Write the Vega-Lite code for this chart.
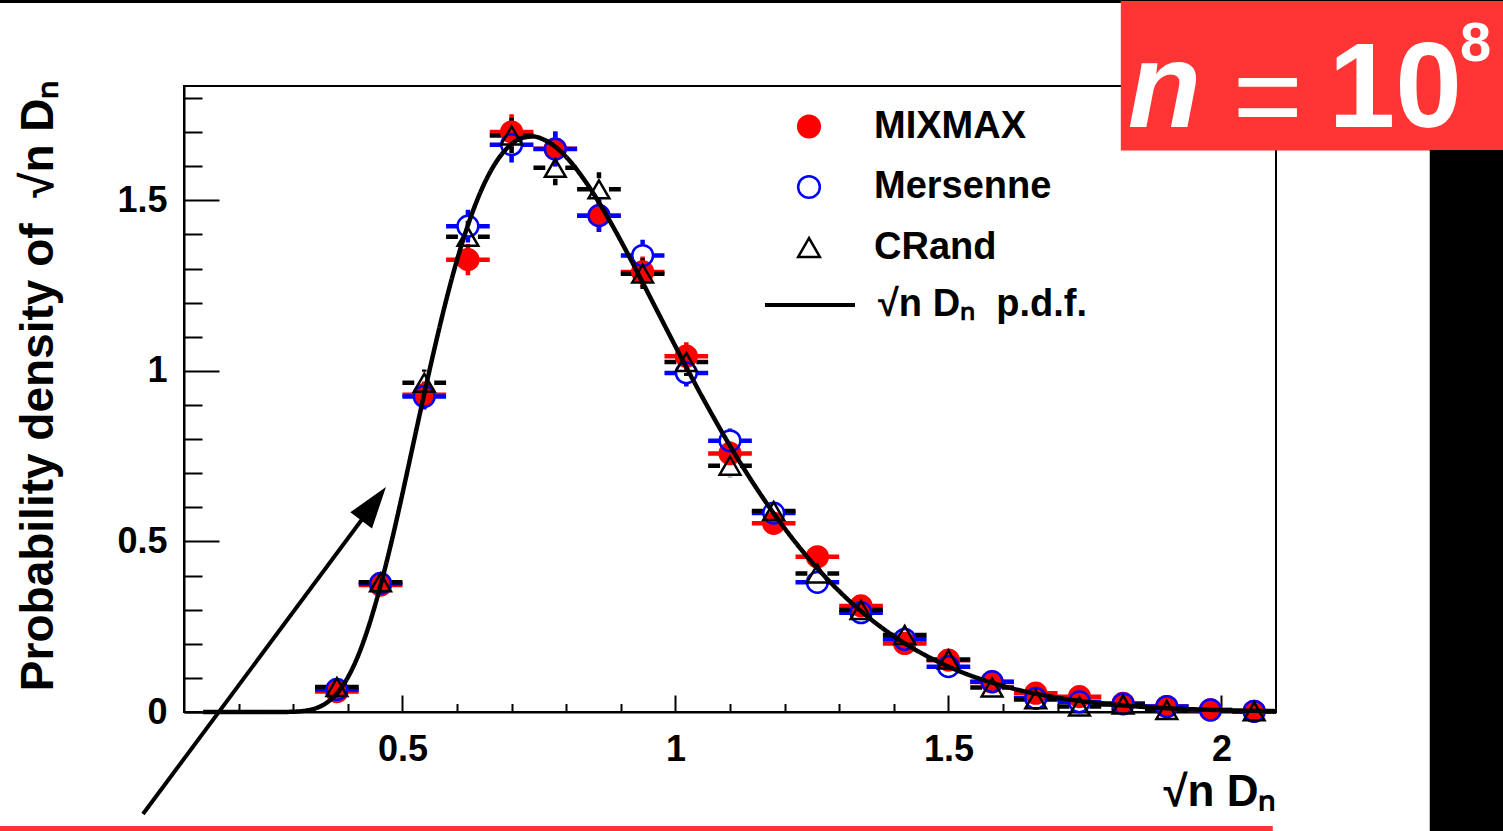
{
  "$schema": "https://vega.github.io/schema/vega-lite/v6.json",
  "width": 1092,
  "height": 626,
  "autosize": {"type": "none"},
  "padding": {"left": 184, "top": 86, "right": 227, "bottom": 119},
  "background": "white",
  "config": {
    "font": "Liberation Sans",
    "view": {"stroke": "black", "strokeWidth": 2},
    "axis": {"domainColor": "black", "domainWidth": 2, "tickColor": "black", "tickWidth": 2, "grid": false,
      "labelFont": "Liberation Sans", "labelFontWeight": "bold", "labelFontSize": 36, "labelColor": "black",
      "titleFont": "Liberation Sans", "titleFontWeight": "bold", "titleColor": "black", "labelOverlap": false, "labelFlush": false},
    "legend": {"labelFont": "Liberation Sans", "labelFontWeight": "bold", "labelFontSize": 38, "labelColor": "black", "padding": 0, "labelLimit": 600}
  },
  "datasets": {
    "pts": [
      {"g":"MIXMAX","x":0.38,"x0":0.34,"x1":0.42,"y":0.060,"ylo":0.050,"yhi":0.070},
      {"g":"MIXMAX","x":0.46,"x0":0.42,"x1":0.50,"y":0.372,"ylo":0.348,"yhi":0.396},
      {"g":"MIXMAX","x":0.54,"x0":0.50,"x1":0.58,"y":0.930,"ylo":0.891,"yhi":0.969},
      {"g":"MIXMAX","x":0.62,"x0":0.58,"x1":0.66,"y":1.326,"ylo":1.280,"yhi":1.372},
      {"g":"MIXMAX","x":0.70,"x0":0.66,"x1":0.74,"y":1.700,"ylo":1.648,"yhi":1.752},
      {"g":"MIXMAX","x":0.78,"x0":0.74,"x1":0.82,"y":1.651,"ylo":1.600,"yhi":1.702},
      {"g":"MIXMAX","x":0.86,"x0":0.82,"x1":0.90,"y":1.455,"ylo":1.407,"yhi":1.503},
      {"g":"MIXMAX","x":0.94,"x0":0.90,"x1":0.98,"y":1.290,"ylo":1.245,"yhi":1.335},
      {"g":"MIXMAX","x":1.02,"x0":0.98,"x1":1.06,"y":1.043,"ylo":1.002,"yhi":1.084},
      {"g":"MIXMAX","x":1.10,"x0":1.06,"x1":1.14,"y":0.758,"ylo":0.723,"yhi":0.793},
      {"g":"MIXMAX","x":1.18,"x0":1.14,"x1":1.22,"y":0.553,"ylo":0.523,"yhi":0.583},
      {"g":"MIXMAX","x":1.26,"x0":1.22,"x1":1.30,"y":0.455,"ylo":0.428,"yhi":0.482},
      {"g":"MIXMAX","x":1.34,"x0":1.30,"x1":1.38,"y":0.311,"ylo":0.289,"yhi":0.333},
      {"g":"MIXMAX","x":1.42,"x0":1.38,"x1":1.46,"y":0.201,"ylo":0.183,"yhi":0.219},
      {"g":"MIXMAX","x":1.50,"x0":1.46,"x1":1.54,"y":0.152,"ylo":0.136,"yhi":0.168},
      {"g":"MIXMAX","x":1.58,"x0":1.54,"x1":1.62,"y":0.088,"ylo":0.076,"yhi":0.100},
      {"g":"MIXMAX","x":1.66,"x0":1.62,"x1":1.70,"y":0.055,"ylo":0.046,"yhi":0.064},
      {"g":"MIXMAX","x":1.74,"x0":1.70,"x1":1.78,"y":0.045,"ylo":0.037,"yhi":0.053},
      {"g":"MIXMAX","x":1.82,"x0":1.78,"x1":1.86,"y":0.025,"ylo":0.019,"yhi":0.031},
      {"g":"MIXMAX","x":1.90,"x0":1.86,"x1":1.94,"y":0.016,"ylo":0.011,"yhi":0.021},
      {"g":"MIXMAX","x":1.98,"x0":1.94,"x1":2.02,"y":0.006,"ylo":0.003,"yhi":0.009},
      {"g":"MIXMAX","x":2.06,"x0":2.02,"x1":2.10,"y":0.002,"ylo":0.000,"yhi":0.004},
      {"g":"Mersenne","x":0.38,"x0":0.34,"x1":0.42,"y":0.066,"ylo":0.056,"yhi":0.076},
      {"g":"Mersenne","x":0.46,"x0":0.42,"x1":0.50,"y":0.377,"ylo":0.352,"yhi":0.402},
      {"g":"Mersenne","x":0.54,"x0":0.50,"x1":0.58,"y":0.925,"ylo":0.887,"yhi":0.963},
      {"g":"Mersenne","x":0.62,"x0":0.58,"x1":0.66,"y":1.424,"ylo":1.376,"yhi":1.472},
      {"g":"Mersenne","x":0.70,"x0":0.66,"x1":0.74,"y":1.663,"ylo":1.611,"yhi":1.715},
      {"g":"Mersenne","x":0.78,"x0":0.74,"x1":0.82,"y":1.650,"ylo":1.599,"yhi":1.701},
      {"g":"Mersenne","x":0.86,"x0":0.82,"x1":0.90,"y":1.455,"ylo":1.407,"yhi":1.503},
      {"g":"Mersenne","x":0.94,"x0":0.90,"x1":0.98,"y":1.338,"ylo":1.292,"yhi":1.384},
      {"g":"Mersenne","x":1.02,"x0":0.98,"x1":1.06,"y":0.994,"ylo":0.954,"yhi":1.034},
      {"g":"Mersenne","x":1.10,"x0":1.06,"x1":1.14,"y":0.795,"ylo":0.759,"yhi":0.831},
      {"g":"Mersenne","x":1.18,"x0":1.14,"x1":1.22,"y":0.583,"ylo":0.552,"yhi":0.614},
      {"g":"Mersenne","x":1.26,"x0":1.22,"x1":1.30,"y":0.380,"ylo":0.355,"yhi":0.405},
      {"g":"Mersenne","x":1.34,"x0":1.30,"x1":1.38,"y":0.291,"ylo":0.269,"yhi":0.313},
      {"g":"Mersenne","x":1.42,"x0":1.38,"x1":1.46,"y":0.213,"ylo":0.195,"yhi":0.231},
      {"g":"Mersenne","x":1.50,"x0":1.46,"x1":1.54,"y":0.133,"ylo":0.118,"yhi":0.148},
      {"g":"Mersenne","x":1.58,"x0":1.54,"x1":1.62,"y":0.089,"ylo":0.077,"yhi":0.101},
      {"g":"Mersenne","x":1.66,"x0":1.62,"x1":1.70,"y":0.040,"ylo":0.032,"yhi":0.048},
      {"g":"Mersenne","x":1.74,"x0":1.70,"x1":1.78,"y":0.030,"ylo":0.023,"yhi":0.037},
      {"g":"Mersenne","x":1.82,"x0":1.78,"x1":1.86,"y":0.024,"ylo":0.018,"yhi":0.030},
      {"g":"Mersenne","x":1.90,"x0":1.86,"x1":1.94,"y":0.016,"ylo":0.011,"yhi":0.021},
      {"g":"Mersenne","x":1.98,"x0":1.94,"x1":2.02,"y":0.006,"ylo":0.003,"yhi":0.009},
      {"g":"Mersenne","x":2.06,"x0":2.02,"x1":2.10,"y":0.002,"ylo":0.000,"yhi":0.004},
      {"g":"CRand","x":0.38,"x0":0.34,"x1":0.42,"y":0.073,"ylo":0.062,"yhi":0.084},
      {"g":"CRand","x":0.46,"x0":0.42,"x1":0.50,"y":0.380,"ylo":0.355,"yhi":0.405},
      {"g":"CRand","x":0.54,"x0":0.50,"x1":0.58,"y":0.965,"ylo":0.926,"yhi":1.004},
      {"g":"CRand","x":0.62,"x0":0.58,"x1":0.66,"y":1.393,"ylo":1.346,"yhi":1.440},
      {"g":"CRand","x":0.70,"x0":0.66,"x1":0.74,"y":1.690,"ylo":1.638,"yhi":1.742},
      {"g":"CRand","x":0.78,"x0":0.74,"x1":0.82,"y":1.595,"ylo":1.544,"yhi":1.646},
      {"g":"CRand","x":0.86,"x0":0.82,"x1":0.90,"y":1.532,"ylo":1.482,"yhi":1.582},
      {"g":"CRand","x":0.94,"x0":0.90,"x1":0.98,"y":1.285,"ylo":1.240,"yhi":1.330},
      {"g":"CRand","x":1.02,"x0":0.98,"x1":1.06,"y":1.026,"ylo":0.985,"yhi":1.067},
      {"g":"CRand","x":1.10,"x0":1.06,"x1":1.14,"y":0.722,"ylo":0.688,"yhi":0.756},
      {"g":"CRand","x":1.18,"x0":1.14,"x1":1.22,"y":0.589,"ylo":0.558,"yhi":0.620},
      {"g":"CRand","x":1.26,"x0":1.22,"x1":1.30,"y":0.406,"ylo":0.381,"yhi":0.431},
      {"g":"CRand","x":1.34,"x0":1.30,"x1":1.38,"y":0.299,"ylo":0.277,"yhi":0.321},
      {"g":"CRand","x":1.42,"x0":1.38,"x1":1.46,"y":0.226,"ylo":0.207,"yhi":0.245},
      {"g":"CRand","x":1.50,"x0":1.46,"x1":1.54,"y":0.154,"ylo":0.138,"yhi":0.170},
      {"g":"CRand","x":1.58,"x0":1.54,"x1":1.62,"y":0.072,"ylo":0.061,"yhi":0.083},
      {"g":"CRand","x":1.66,"x0":1.62,"x1":1.70,"y":0.037,"ylo":0.029,"yhi":0.045},
      {"g":"CRand","x":1.74,"x0":1.70,"x1":1.78,"y":0.016,"ylo":0.011,"yhi":0.021},
      {"g":"CRand","x":1.82,"x0":1.78,"x1":1.86,"y":0.022,"ylo":0.016,"yhi":0.028},
      {"g":"CRand","x":1.90,"x0":1.86,"x1":1.94,"y":0.006,"ylo":0.003,"yhi":0.009},
      {"g":"CRand","x":2.06,"x0":2.02,"x1":2.10,"y":0.002,"ylo":0.000,"yhi":0.004}
    ],
    "pdf": [
      {"x":0.135,"f":0},{"x":0.2,"f":0},{"x":0.25,"f":0.000004},{"x":0.28,"f":0.00014},{"x":0.30,"f":0.00082},
      {"x":0.32,"f":0.00331},{"x":0.34,"f":0.01023},{"x":0.36,"f":0.02561},{"x":0.38,"f":0.05437},{"x":0.40,"f":0.1012},
      {"x":0.42,"f":0.1694},{"x":0.44,"f":0.2600},{"x":0.46,"f":0.3713},{"x":0.48,"f":0.4986},{"x":0.50,"f":0.6394},
      {"x":0.52,"f":0.7864},{"x":0.54,"f":0.9327},{"x":0.56,"f":1.0738},{"x":0.58,"f":1.206},{"x":0.60,"f":1.3247},
      {"x":0.62,"f":1.427},{"x":0.64,"f":1.5126},{"x":0.66,"f":1.5805},{"x":0.68,"f":1.631},{"x":0.70,"f":1.665},
      {"x":0.72,"f":1.683},{"x":0.74,"f":1.687},{"x":0.76,"f":1.677},{"x":0.78,"f":1.657},{"x":0.80,"f":1.627},
      {"x":0.84,"f":1.544},{"x":0.88,"f":1.439},{"x":0.92,"f":1.321},{"x":0.96,"f":1.1966},{"x":1.00,"f":1.072},
      {"x":1.05,"f":0.9211},{"x":1.10,"f":0.7803},{"x":1.15,"f":0.6523},{"x":1.20,"f":0.5385},{"x":1.25,"f":0.4392},
      {"x":1.30,"f":0.3541},{"x":1.35,"f":0.2822},{"x":1.40,"f":0.2222},{"x":1.45,"f":0.1731},{"x":1.50,"f":0.1333},
      {"x":1.60,"f":0.0765},{"x":1.70,"f":0.0420},{"x":1.80,"f":0.0221},{"x":1.90,"f":0.0111},{"x":2.00,"f":0.0054},
      {"x":2.10,"f":0.0025}
    ],
    "one": [{}]
  },
  "layer": [
    {
      "data": {"name": "pts"},
      "mark": {"type": "rule", "strokeWidth": 4.5, "strokeDash": [0, 10, 100]},
      "encoding": {
        "x": {"field": "x", "type": "quantitative", "scale": {"domain": [0.1, 2.1], "nice": false, "zero": false},
          "axis": {"values": [0.2,0.3,0.4,0.5,0.6,0.7,0.8,0.9,1,1.1,1.2,1.3,1.4,1.5,1.6,1.7,1.8,1.9,2],
            "tickCount": 40,
            "format": "~g",
            "labelExpr": "indexof([0.5,1,1.5,2], datum.value) >= 0 ? datum.label : ''",
            "tickSize": {"condition": {"test": "indexof([0.5,1,1.5,2], datum.value) >= 0", "value": -17}, "value": -8.5},
            "labelPadding": 37,
            "title": "√n Dₙ", "titleFontSize": 44, "titleX": 1092, "titleY": 93, "titleAlign": "right", "titleBaseline": "alphabetic"}},
        "x2": {"field": "x1"},
        "y": {"field": "y", "type": "quantitative", "scale": {"domain": [0, 1.835], "nice": false},
          "axis": {"values": [0,0.1,0.2,0.3,0.4,0.5,0.6,0.7,0.8,0.9,1,1.1,1.2,1.3,1.4,1.5,1.6,1.7,1.8],
            "tickCount": 40,
            "format": "~g",
            "labelExpr": "indexof([0,0.5,1,1.5], datum.value) >= 0 ? datum.label : ''",
            "tickSize": {"condition": {"test": "indexof([0,0.5,1,1.5], datum.value) >= 0", "value": -35}, "value": -18},
            "labelPadding": 52,
            "title": "Probability density of \u00a0√n Dₙ", "titleFontSize": 46, "titleAngle": 270, "titleX": -132, "titleY": -6, "titleAlign": "right", "titleBaseline": "alphabetic"}},
        "color": {"field": "g", "type": "nominal", "scale": {"domain": ["CRand", "Mersenne", "MIXMAX"], "range": ["#000000", "#0000ff", "#ff0000"]}, "legend": null}
      }
    },
    {
      "data": {"name": "pts"},
      "mark": {"type": "rule", "strokeWidth": 4.5, "strokeDash": [0, 10, 100]},
      "encoding": {
        "x": {"field": "x", "type": "quantitative", "scale": {"domain": [0.1, 2.1], "nice": false, "zero": false}},
        "x2": {"field": "x0"},
        "y": {"field": "y", "type": "quantitative", "scale": {"domain": [0, 1.835], "nice": false}},
        "color": {"field": "g", "type": "nominal", "scale": {"domain": ["CRand", "Mersenne", "MIXMAX"], "range": ["#000000", "#0000ff", "#ff0000"]}, "legend": null}
      }
    },
    {
      "data": {"name": "pts"},
      "mark": {"type": "rule", "strokeWidth": 4.5, "strokeDash": [0, 11, 1000]},
      "encoding": {
        "x": {"field": "x", "type": "quantitative", "scale": {"domain": [0.1, 2.1], "nice": false, "zero": false}},
        "y": {"field": "y", "type": "quantitative", "scale": {"domain": [0, 1.835], "nice": false}},
        "y2": {"field": "yhi"},
        "color": {"field": "g", "type": "nominal", "scale": {"domain": ["CRand", "Mersenne", "MIXMAX"], "range": ["#000000", "#0000ff", "#ff0000"]}, "legend": null}
      }
    },
    {
      "data": {"name": "pts"},
      "mark": {"type": "rule", "strokeWidth": 4.5, "strokeDash": [0, 11, 1000]},
      "encoding": {
        "x": {"field": "x", "type": "quantitative", "scale": {"domain": [0.1, 2.1], "nice": false, "zero": false}},
        "y": {"field": "y", "type": "quantitative", "scale": {"domain": [0, 1.835], "nice": false}},
        "y2": {"field": "ylo"},
        "color": {"field": "g", "type": "nominal", "scale": {"domain": ["CRand", "Mersenne", "MIXMAX"], "range": ["#000000", "#0000ff", "#ff0000"]}, "legend": null}
      }
    },
    {
      "data": {"name": "pts"},
      "mark": {"type": "point", "size": 430, "strokeWidth": 2.5, "opacity": 1},
      "encoding": {
        "x": {"field": "x", "type": "quantitative", "scale": {"domain": [0.1, 2.1], "nice": false, "zero": false}},
        "y": {"field": "y", "type": "quantitative", "scale": {"domain": [0, 1.835], "nice": false}},
        "stroke": {"field": "g", "type": "nominal", "scale": {"domain": ["MIXMAX", "Mersenne", "CRand"], "range": ["#ff0000", "#0000ff", "#000000"]},
          "legend": {"orient": "none", "legendX": 606, "legendY": 21.5, "title": null, "symbolSize": 470, "symbolStrokeWidth": 2.5, "labelOffset": 46, "rowPadding": 22.5}},
        "fill": {"field": "g", "type": "nominal", "scale": {"domain": ["MIXMAX", "Mersenne", "CRand"], "range": ["#ff0000", "transparent", "transparent"]},
          "legend": {"orient": "none", "legendX": 606, "legendY": 21.5, "title": null, "symbolSize": 470, "symbolStrokeWidth": 2.5, "labelOffset": 46, "rowPadding": 22.5}},
        "shape": {"field": "g", "type": "nominal", "scale": {"domain": ["MIXMAX", "Mersenne", "CRand"], "range": ["circle", "circle", "triangle-up"]},
          "legend": {"orient": "none", "legendX": 606, "legendY": 21.5, "title": null, "symbolSize": 470, "symbolStrokeWidth": 2.5, "labelOffset": 46, "rowPadding": 22.5}}
      }
    },
    {
      "data": {"name": "pdf"},
      "mark": {"type": "line", "strokeWidth": 4.5, "interpolate": "monotone", "color": "#000000"},
      "encoding": {
        "x": {"field": "x", "type": "quantitative", "scale": {"domain": [0.1, 2.1], "nice": false, "zero": false}},
        "y": {"field": "f", "type": "quantitative", "scale": {"domain": [0, 1.835], "nice": false}},
        "strokeDash": {"datum": "√n Dₙ \u00a0p.d.f.", "scale": {"range": [[1, 0]]},
          "legend": {"orient": "none", "legendX": 579, "legendY": 172, "title": null, "symbolType": "stroke", "symbolSize": 8100, "symbolStrokeWidth": 4, "symbolStrokeColor": "#000000", "labelOffset": 21}}
      }
    },
    {
      "data": {"name": "one"},
      "mark": {"type": "rect", "color": "#000000"},
      "encoding": {
        "x": {"datum": -0.25, "type": "quantitative", "scale": {"domain": [0.1, 2.1], "nice": false, "zero": false}},
        "x2": {"datum": 2.6},
        "y": {"datum": 2.0786, "type": "quantitative", "scale": {"domain": [0, 1.835], "nice": false}},
        "y2": {"datum": 2.2}
      }
    },
    {
      "data": {"name": "one"},
      "mark": {"type": "rect", "color": "#ff3535"},
      "encoding": {
        "x": {"datum": 1.8158, "type": "quantitative", "scale": {"domain": [0.1, 2.1], "nice": false, "zero": false}},
        "x2": {"datum": 2.6},
        "y": {"datum": 1.6456, "type": "quantitative", "scale": {"domain": [0, 1.835], "nice": false}},
        "y2": {"datum": 2.0845}
      }
    },
    {
      "data": {"name": "one"},
      "mark": {"type": "rect", "color": "#000000"},
      "encoding": {
        "x": {"datum": 2.3816, "type": "quantitative", "scale": {"domain": [0.1, 2.1], "nice": false, "zero": false}},
        "x2": {"datum": 2.6},
        "y": {"datum": -0.4, "type": "quantitative", "scale": {"domain": [0, 1.835], "nice": false}},
        "y2": {"datum": 1.6476}
      }
    },
    {
      "data": {"name": "one"},
      "mark": {"type": "rect", "color": "#ff3535"},
      "encoding": {
        "x": {"datum": -0.25, "type": "quantitative", "scale": {"domain": [0.1, 2.1], "nice": false, "zero": false}},
        "x2": {"datum": 2.0941},
        "y": {"datum": -0.4, "type": "quantitative", "scale": {"domain": [0, 1.835], "nice": false}},
        "y2": {"datum": -0.3342}
      }
    },
    {
      "data": {"name": "one"},
      "mark": {"type": "rule", "color": "#000000", "strokeWidth": 4},
      "encoding": {
        "x": {"datum": 0.0249, "type": "quantitative", "scale": {"domain": [0.1, 2.1], "nice": false, "zero": false}},
        "x2": {"datum": 0.4443},
        "y": {"datum": -0.299, "type": "quantitative", "scale": {"domain": [0, 1.835], "nice": false}},
        "y2": {"datum": 0.604}
      }
    },
    {
      "data": {"name": "one"},
      "mark": {"type": "point", "shape": "M0,-1L0.52,0.6L-0.52,0.6Z", "size": 2704, "angle": 36.6, "filled": true, "color": "#000000", "opacity": 1},
      "encoding": {
        "x": {"datum": 0.4415, "type": "quantitative", "scale": {"domain": [0.1, 2.1], "nice": false, "zero": false}},
        "y": {"datum": 0.5984, "type": "quantitative", "scale": {"domain": [0, 1.835], "nice": false}}
      }
    },
    {
      "data": {"name": "one"},
      "mark": {"type": "text", "text": "n", "font": "Liberation Sans", "fontWeight": "bold", "fontStyle": "italic", "fontSize": 120, "color": "#ffffff", "align": "left", "baseline": "alphabetic"},
      "encoding": {
        "x": {"datum": 1.8286, "type": "quantitative", "scale": {"domain": [0.1, 2.1], "nice": false, "zero": false}},
        "y": {"datum": 1.715, "type": "quantitative", "scale": {"domain": [0, 1.835], "nice": false}}
      }
    },
    {
      "data": {"name": "one"},
      "mark": {"type": "text", "text": "=", "font": "Liberation Sans", "fontWeight": "normal", "fontSize": 120, "color": "#ffffff", "align": "center", "baseline": "alphabetic"},
      "encoding": {
        "x": {"datum": 2.085, "type": "quantitative", "scale": {"domain": [0.1, 2.1], "nice": false, "zero": false}},
        "y": {"datum": 1.6857, "type": "quantitative", "scale": {"domain": [0, 1.835], "nice": false}}
      }
    },
    {
      "data": {"name": "one"},
      "mark": {"type": "text", "text": "10", "font": "Liberation Sans", "fontWeight": "bold", "fontStyle": "normal", "fontSize": 120, "color": "#ffffff", "align": "center", "baseline": "alphabetic"},
      "encoding": {
        "x": {"datum": 2.3184, "type": "quantitative", "scale": {"domain": [0.1, 2.1], "nice": false, "zero": false}},
        "y": {"datum": 1.715, "type": "quantitative", "scale": {"domain": [0, 1.835], "nice": false}}
      }
    },
    {
      "data": {"name": "one"},
      "mark": {"type": "text", "text": "8", "font": "Liberation Sans", "fontWeight": "bold", "fontSize": 56, "color": "#ffffff", "align": "center", "baseline": "alphabetic"},
      "encoding": {
        "x": {"datum": 2.4654, "type": "quantitative", "scale": {"domain": [0.1, 2.1], "nice": false, "zero": false}},
        "y": {"datum": 1.9086, "type": "quantitative", "scale": {"domain": [0, 1.835], "nice": false}}
      }
    }
  ]
}
